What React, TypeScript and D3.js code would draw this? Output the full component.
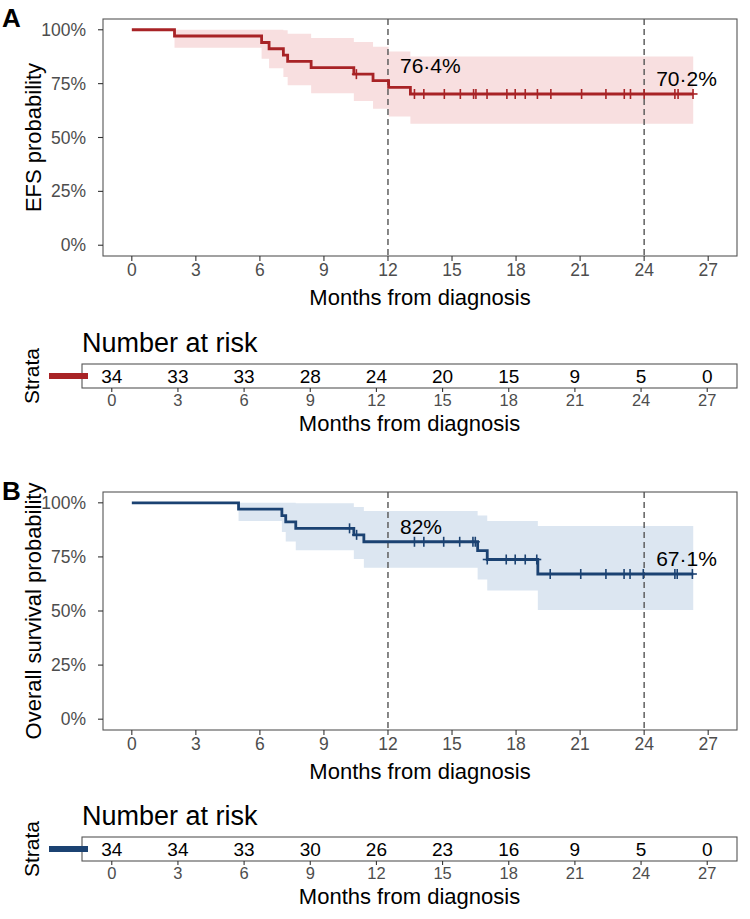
import React from 'react';
import * as d3 from 'd3';

const FONT = '"Liberation Sans", Arial, Helvetica, sans-serif';

// shared axis ticks (months / probability)
const xTicks = [0, 3, 6, 9, 12, 15, 18, 21, 24, 27];
const yTicks = [0, 0.25, 0.5, 0.75, 1];
const markTimes = [12, 24];

// Event-free survival: step times, KM estimate and 95% CI
const efsTimes = [0, 2.0, 6.08, 6.43, 7.1, 7.3, 8.4, 10.4, 11.3, 12.03, 13.05, 26.3];
const efsSurv = [1, 0.971, 0.941, 0.912, 0.882, 0.853, 0.824, 0.794, 0.764, 0.733, 0.702, 0.702];
const efsUpper = [1, 1, 1, 1, 0.998, 0.981, 0.962, 0.943, 0.921, 0.899, 0.876, 0.876];
const efsLower = [1, 0.916, 0.865, 0.821, 0.781, 0.742, 0.705, 0.669, 0.633, 0.598, 0.564, 0.564];
const efsCensor = [10.52, 13.24, 13.68, 14.64, 15.39, 16.01, 16.12, 16.64, 17.57, 17.96, 18.43, 19.0,
  19.63, 21.07, 22.21, 23.07, 23.36, 24.0, 25.44, 25.59, 26.29];
const efsAtRisk = [34, 33, 33, 28, 24, 20, 15, 9, 5, 0];

// Overall survival
const osTimes = [0, 5.0, 7.03, 7.21, 7.68, 10.4, 10.87, 16.2, 16.65, 19.02, 26.3];
const osSurv = [1, 0.971, 0.941, 0.912, 0.882, 0.852, 0.82, 0.779, 0.738, 0.671, 0.671];
const osUpper = [1, 1, 1, 1, 0.998, 0.981, 0.962, 0.941, 0.916, 0.893, 0.893];
const osLower = [1, 0.916, 0.865, 0.821, 0.781, 0.74, 0.7, 0.646, 0.595, 0.505, 0.505];
const osCensor = [10.2, 10.53, 13.24, 13.68, 14.61, 15.36, 15.98, 16.09, 16.65, 17.54, 17.96, 18.43,
  18.97, 19.6, 21.03, 22.21, 23.06, 23.34, 23.96, 25.44, 25.55, 26.26];
const osAtRisk = [34, 34, 33, 30, 26, 23, 16, 9, 5, 0];

const X_DOMAIN: [number, number] = [-1.35, 28.35];
const fmtPct = d3.format('.3~p');

type PanelProps = {
  tag: string;
  yTitle: string;
  top: number;
  bottom: number;
  times: number[];
  surv: number[];
  lower: number[];
  upper: number[];
  censor: number[];
  color: string;
  fill: string;
};

const SurvPanel = ({ tag, yTitle, top, bottom, times, surv, lower, upper, censor, color, fill }: PanelProps) => {
  const left = 103;
  const right = 737;
  const xs = d3.scaleLinear().domain(X_DOMAIN).range([left, right]);
  const ys = d3.scaleLinear().domain([-0.05, 1.05]).range([bottom, top]);

  const survAt = (t: number) => surv[d3.bisectRight(times, t) - 1];

  const line = d3.line<number>()
    .curve(d3.curveStepAfter)
    .x((_, i) => xs(times[i]))
    .y((d) => ys(d));

  const band = d3.area<number>()
    .curve(d3.curveStepAfter)
    .x((d) => xs(d))
    .y0((_, i) => ys(lower[i]))
    .y1((_, i) => ys(upper[i]));

  return (
    <g>
      <text x={2} y={top + 8} fontSize={26} fontWeight="bold" fill="#000">{tag}</text>

      {/* confidence band + curve */}
      <path d={band(times) ?? ''} fill={fill} stroke="none" />
      {markTimes.map((t) => (
        <line key={t} x1={xs(t)} x2={xs(t)} y1={top} y2={bottom}
          stroke="#555" strokeWidth={1.4} strokeDasharray="6,4" />
      ))}
      <path d={line(surv) ?? ''} fill="none" stroke={color} strokeWidth={2.8} />
      {censor.map((t, i) => {
        const cx = xs(t);
        const cy = ys(survAt(t));
        return (
          <g key={i} stroke={color} strokeWidth={1.6}>
            <line x1={cx} x2={cx} y1={cy - 5} y2={cy + 5} />
            <line x1={cx - 4.5} x2={cx + 4.5} y1={cy} y2={cy} />
          </g>
        );
      })}

      {/* percentage annotations at 12 and 24 months */}
      {markTimes.map((t) => (
        <text key={'l' + t} x={xs(t) + 12} y={ys(survAt(t)) - 8} fontSize={21} fill="#000">
          {fmtPct(survAt(t)).replace('.', '·')}
        </text>
      ))}

      {/* frame */}
      <rect x={left} y={top} width={right - left} height={bottom - top} fill="none" stroke="#555" strokeWidth={1.1} />

      {/* y axis */}
      {yTicks.map((v) => (
        <g key={v}>
          <line x1={left - 5} x2={left} y1={ys(v)} y2={ys(v)} stroke="#333" strokeWidth={1.1} />
          <text x={86} y={ys(v)} dy="0.35em" textAnchor="end" fontSize={17.5} fill="#4D4D4D">
            {d3.format('.0%')(v)}
          </text>
        </g>
      ))}
      <text transform={`translate(33,${(top + bottom) / 2}) rotate(-90)`} textAnchor="middle" dy="0.35em"
        fontSize={22} fill="#000">{yTitle}</text>

      {/* x axis */}
      {xTicks.map((v) => (
        <g key={v}>
          <line x1={xs(v)} x2={xs(v)} y1={bottom} y2={bottom + 5} stroke="#333" strokeWidth={1.1} />
          <text x={xs(v)} y={bottom + 20} textAnchor="middle" fontSize={17.5} fill="#4D4D4D">{v}</text>
        </g>
      ))}
      <text x={(left + right) / 2} y={bottom + 49} textAnchor="middle" fontSize={22} fill="#000">
        Months from diagnosis
      </text>
    </g>
  );
};

const RiskTable = ({ top, counts, color }: { top: number; counts: number[]; color: string }) => {
  const left = 82;
  const right = 737;
  const h = 24;
  const xs = d3.scaleLinear().domain(X_DOMAIN).range([left, right]);
  return (
    <g>
      <text x={left} y={top - 12} fontSize={27} fill="#000">Number at risk</text>
      <text transform={`translate(32,${top + h / 2}) rotate(-90)`} textAnchor="middle" dy="0.35em"
        fontSize={21} fill="#000">Strata</text>
      <rect x={left} y={top} width={right - left} height={h} fill="none" stroke="#555" strokeWidth={1.1} />
      <line x1={49} x2={88} y1={top + h / 2} y2={top + h / 2} stroke={color} strokeWidth={6} />
      {xTicks.map((t, i) => (
        <g key={t}>
          <text x={xs(t)} y={top + 19} textAnchor="middle" fontSize={19} fill="#000">{counts[i]}</text>
          <line x1={xs(t)} x2={xs(t)} y1={top + h} y2={top + h + 4} stroke="#333" strokeWidth={1.1} />
          <text x={xs(t)} y={top + 42} textAnchor="middle" fontSize={16.5} fill="#4D4D4D">{t}</text>
        </g>
      ))}
      <text x={(left + right) / 2} y={top + 67} textAnchor="middle" fontSize={22} fill="#000">
        Months from diagnosis
      </text>
    </g>
  );
};

export default function App() {
  return (
    <svg width={750} height={919} style={{ position: 'absolute', left: 0, top: 0, background: '#fff' }}
      fontFamily={FONT}>
      <SurvPanel tag="A" yTitle="EFS probability" top={19} bottom={256}
        times={efsTimes} surv={efsSurv} lower={efsLower} upper={efsUpper} censor={efsCensor}
        color="#A82326" fill="#F8DFE0" />
      <RiskTable top={364} counts={efsAtRisk} color="#A82326" />
      <SurvPanel tag="B" yTitle="Overall survival probability" top={492} bottom={730}
        times={osTimes} surv={osSurv} lower={osLower} upper={osUpper} censor={osCensor}
        color="#1B4272" fill="#DCE6F1" />
      <RiskTable top={837} counts={osAtRisk} color="#1B4272" />
    </svg>
  );
}
